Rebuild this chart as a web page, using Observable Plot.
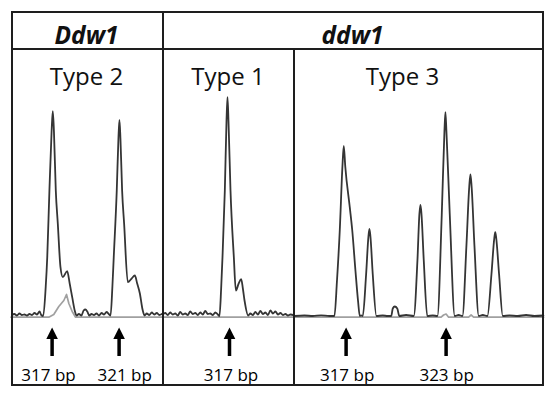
<!DOCTYPE html>
<html><head><meta charset="utf-8">
<script src="https://cdn.jsdelivr.net/npm/d3@7"></script>
<script src="https://cdn.jsdelivr.net/npm/@observablehq/plot@0.6"></script>
<style>
body{margin:0;background:#fff;}
#fig{position:relative;width:550px;height:394px;background:#fff;font-family:"Open Sans",sans-serif;overflow:hidden}
.ln{position:absolute;background:#1e1e1e}
.panel{position:absolute;top:49px}
.panel svg{display:block;overflow:visible}
.hd{position:absolute;font-size:24.5px;line-height:24px;font-weight:700;font-style:italic;text-align:center;color:#111;white-space:nowrap}
.ty{position:absolute;font-size:24px;line-height:24px;text-align:center;color:#111;white-space:nowrap}
</style></head>
<body><div id="fig"></div>
<script>
// ---- text ----
const genotypes = ["Ddw1", "ddw1"];
const types = ["Type 2", "Type 1", "Type 3"];

// ---- traces: [size (bp), signal (RFU)] ----
const traceType2 = [
  [314.6,15],[314.75,25],[314.9,10],[315.05,30],[315.2,15],[315.35,20],[315.5,10],[315.65,25],[315.8,15],[315.95,35],[316.1,20],[316.25,50],[316.35,15],[316.47,5],
  [316.62,300],[316.71,593],[316.84,1260],[316.97,1850],[317.04,2053],[317.11,1850],[317.22,1260],[317.34,930],[317.5,493],[317.64,393],[317.9,453],[318.05,330],[318.2,193],[318.35,60],[318.46,10],
  [318.6,25],[318.75,10],[318.88,60],[318.99,70],[319.1,50],[319.22,10],[319.35,25],[319.5,15],[319.65,30],[319.8,10],[319.95,35],[320.1,20],[320.25,45],[320.38,25],[320.49,10],
  [320.6,300],[320.68,593],[320.86,1260],[320.96,1780],[321.02,1967],[321.08,1780],[321.18,1260],[321.3,927],[321.52,343],[321.75,380],[321.94,410],[322.08,330],[322.24,230],[322.4,70],[322.52,10],
  [322.65,30],[322.8,15],[322.95,40],[323.1,20],[323.25,35],[323.4,15],[323.55,25]
];
const refType2 = [
  [314.55,-7],[316.8,-7],[317.1,20],[317.4,100],[317.7,160],[317.86,220],[318.0,130],[318.2,50],[318.4,-7],[323.6,-7]
];
const traceType1 = [
  [313.0,20],[313.15,35],[313.3,15],[313.45,40],[313.6,20],[313.75,30],[313.9,10],[314.05,45],[314.2,20],[314.35,30],[314.5,15],[314.65,50],[314.8,25],[314.95,35],[315.1,15],[315.25,40],[315.4,20],[315.55,55],[315.7,25],[315.85,30],[316.0,15],[316.15,40],[316.3,20],[316.4,5],
  [316.5,280],[316.58,593],[316.72,1260],[316.82,1950],[316.88,2193],[316.94,1950],[317.06,1260],[317.26,593],[317.38,260],[317.55,330],[317.7,373],[317.8,280],[317.9,160],[318.12,10],
  [318.25,30],[318.4,15],[318.55,45],[318.7,20],[318.85,55],[319.0,25],[319.15,40],[319.3,15],[319.45,60],[319.6,30],[319.75,50],[319.9,20],[320.05,35],[320.2,15],[320.35,25],[320.5,10],[320.65,20],[320.88,10]
];
const refType1 = [[312.98,-7],[320.9,-7]];
const traceType3 = [
  [313.9,5],[314.5,10],[315.0,5],[315.5,12],[316.0,5],[316.3,5],
  [316.45,350],[316.62,860],[316.78,1500],[316.86,1707],[316.95,1500],[317.22,1093],[317.37,860],[317.56,460],[317.72,150],[317.82,5],[317.9,10],
  [318.0,5],[318.2,420],[318.34,800],[318.4,877],[318.46,800],[318.6,420],[318.82,5],[319.2,10],[319.5,5],
  [319.71,5],[319.8,80],[319.92,100],[320.07,80],[320.19,5],[320.6,15],
  [321.06,5],[321.28,560],[321.4,1030],[321.46,1117],[321.52,1030],[321.66,560],[321.87,5],[322.2,10],
  [322.48,5],[322.74,1020],[322.9,1850],[322.96,2043],[323.02,1850],[323.22,1020],[323.52,5],[323.75,15],
  [323.98,5],[324.22,710],[324.39,1300],[324.46,1420],[324.53,1300],[324.7,710],[324.96,5],[325.2,15],
  [325.48,5],[325.72,420],[325.89,780],[325.95,843],[326.01,780],[326.18,420],[326.4,5],[326.8,10],[327.3,5],[327.8,15],[328.3,5],[328.84,10]
];
const refType3 = [
  [313.9,-7],[322.7,-7],[322.85,15],[323.0,25],[323.15,-7],[324.35,-7],[324.5,15],[324.65,-7],[328.85,-7]
];

// ---- size markers (arrows) and their labels ----
const arrowsType2 = [317, 321];
const arrowsType1 = [317];
const arrowsType3 = [317, 323];
const labelsType2 = ["317 bp", "321 bp"];
const labelsType1 = ["317 bp"];
const labelsType3 = ["317 bp", "323 bp"];

// ---- layout ----
const fig = document.getElementById("fig");
const panels = [
  {title: types[0], left: 11, width: 151, domain: [314.576, 323.591], trace: traceType2, ref: refType2, arrows: arrowsType2, labels: labelsType2, dx: [-3.6, 5.6], tLeft: 11, tWidth: 151},
  {title: types[1], left: 162, width: 132, domain: [312.988, 320.892], trace: traceType1, ref: refType1, arrows: arrowsType1, labels: labelsType1, dx: [1.5], tLeft: 162, tWidth: 132},
  {title: types[2], left: 294, width: 249, domain: [313.904, 328.844], trace: traceType3, ref: refType3, arrows: arrowsType3, labels: labelsType3, dx: [1, 0.5], tLeft: 294, tWidth: 217}
];

const head = {draw(ctx) { ctx.moveTo(0, -11.5); ctx.lineTo(5.8, 0); ctx.lineTo(-5.8, 0); ctx.closePath(); }};

for (const p of panels) {
  const trace = p.trace.map(([bp, rfu]) => ({bp, rfu}));
  const ref = p.ref.map(([bp, rfu]) => ({bp, rfu}));
  const lab = p.arrows.map((bp, i) => ({bp, text: p.labels[i], dx: p.dx[i]}));
  const chart = Plot.plot({
    width: p.width, height: 336, margin: 0,
    x: {domain: p.domain, axis: null},
    y: {domain: [-690, 2670], axis: null},
    style: {fontFamily: '"Open Sans", sans-serif', background: "transparent", overflow: "visible"},
    marks: [
      Plot.line(ref, {x: "bp", y: "rfu", stroke: "#a0a0a0", strokeWidth: 1.7}),
      Plot.line(trace, {x: "bp", y: "rfu", stroke: "#353535", strokeWidth: 1.8, curve: "monotone-x"}),
      Plot.ruleX(p.arrows, {x: d => d, y1: -225, y2: -400, stroke: "#000", strokeWidth: 3.5}),
      Plot.dot(p.arrows, {x: d => d, y: -225, symbol: head, fill: "#000", stroke: "none"}),
      ...lab.map(l => Plot.text([l], {x: "bp", y: -586, text: "text", dx: l.dx, fontSize: 17, fill: "#000"}))
    ]
  });
  const div = document.createElement("div");
  div.className = "panel";
  div.style.left = p.left + "px";
  div.appendChild(chart);
  fig.appendChild(div);
  const t = document.createElement("div");
  t.className = "ty";
  t.style.left = p.tLeft + "px"; t.style.width = p.tWidth + "px"; t.style.top = "63.7px";
  t.textContent = p.title;
  fig.appendChild(t);
}

// header
[[genotypes[0], 11, 151], [genotypes[1], 162, 381]].forEach(([txt, l, w]) => {
  const h = document.createElement("div");
  h.className = "hd";
  h.style.left = l + "px"; h.style.width = w + "px"; h.style.top = "22.5px";
  h.textContent = txt;
  fig.appendChild(h);
});

// frame lines
[
  [11, 11, 533, 2], [11, 383.5, 533, 2], [11, 11, 2, 374.5], [542, 11, 2, 374.5],
  [11, 47.5, 533, 2], [161.5, 11, 2, 374.5], [293.3, 47.5, 2, 338]
].forEach(([l, t, w, h]) => {
  const d = document.createElement("div");
  d.className = "ln";
  Object.assign(d.style, {left: l + "px", top: t + "px", width: w + "px", height: h + "px"});
  fig.appendChild(d);
});
</script>
</body></html>
